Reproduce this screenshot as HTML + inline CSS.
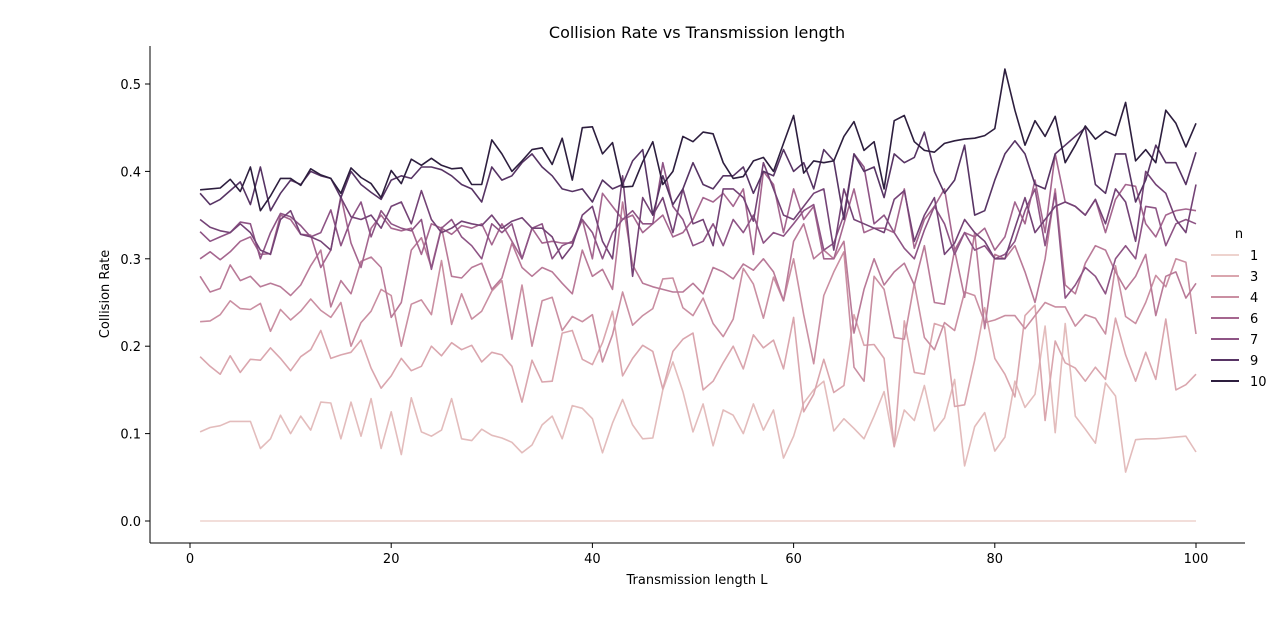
<!DOCTYPE html>
<html><head><meta charset="utf-8"><style>
body{margin:0;background:#fff;font-family:"Liberation Sans","DejaVu Sans",sans-serif}
svg text{font-family:"DejaVu Sans","Liberation Sans",sans-serif;fill:#000}
</style></head><body>
<svg id="chart" width="1280" height="615" viewBox="0 0 1280 615" xmlns="http://www.w3.org/2000/svg">
<text x="697" y="38" font-size="16" text-anchor="middle">Collision Rate vs Transmission length</text>
<g id="marks"></g>
<g id="axes"></g>
<text x="697" y="584" font-size="13" text-anchor="middle">Transmission length L</text>
<text transform="translate(109,294) rotate(-90)" font-size="13" text-anchor="middle">Collision Rate</text>
<g id="legend"></g>
</svg>
<script>
const nValues=[1,2,3,4,5,6,7,8,9,10];
const legendLabels=["1","3","4","6","7","9","10"];
const xTicks=[0,20,40,60,80,100];
const yTicks=[0,0.1,0.2,0.3,0.4,0.5];
const yTickLabels=["0.0","0.1","0.2","0.3","0.4","0.5"];
const colors=["#eed3ce","#e3bcbc","#daa6ae","#ca8fa2","#b97a98","#a5668f","#8e5485","#744376","#573464","#2d1e3e"];
const s1=new Array(100).fill(0);
const s2=[0.102,0.107,0.109,0.114,0.114,0.114,0.083,0.094,0.121,0.100,0.120,0.104,0.136,0.135,0.094,0.136,0.097,0.140,0.083,0.125,0.076,0.141,0.102,0.097,0.104,0.140,0.094,0.092,0.105,0.098,0.095,0.090,0.078,0.087,0.110,0.120,0.094,0.132,0.129,0.117,0.078,0.112,0.139,0.110,0.094,0.095,0.150,0.182,0.148,0.102,0.134,0.086,0.127,0.121,0.100,0.134,0.104,0.127,0.072,0.097,0.135,0.150,0.160,0.103,0.117,0.106,0.094,0.120,0.148,0.085,0.127,0.115,0.155,0.103,0.118,0.162,0.063,0.108,0.124,0.080,0.096,0.160,0.130,0.145,0.223,0.101,0.226,0.120,0.105,0.089,0.158,0.143,0.056,0.093,0.094,0.094,0.095,0.096,0.097,0.079];
const s3=[0.188,0.177,0.168,0.189,0.170,0.185,0.184,0.198,0.186,0.172,0.188,0.196,0.218,0.186,0.190,0.193,0.207,0.175,0.152,0.166,0.186,0.172,0.177,0.200,0.189,0.204,0.196,0.201,0.182,0.193,0.190,0.177,0.136,0.184,0.159,0.160,0.215,0.218,0.185,0.179,0.204,0.240,0.166,0.186,0.201,0.194,0.151,0.194,0.208,0.215,0.150,0.160,0.181,0.200,0.174,0.213,0.198,0.207,0.174,0.233,0.125,0.145,0.185,0.147,0.155,0.236,0.201,0.202,0.186,0.085,0.229,0.170,0.168,0.226,0.222,0.131,0.133,0.184,0.244,0.186,0.168,0.142,0.235,0.247,0.115,0.206,0.181,0.175,0.160,0.176,0.162,0.232,0.190,0.160,0.193,0.162,0.231,0.150,0.156,0.168];
const s4=[0.228,0.229,0.236,0.252,0.243,0.242,0.249,0.217,0.242,0.230,0.240,0.254,0.241,0.233,0.250,0.200,0.227,0.240,0.265,0.258,0.200,0.248,0.253,0.236,0.298,0.225,0.260,0.231,0.240,0.263,0.275,0.208,0.270,0.200,0.252,0.256,0.218,0.234,0.228,0.236,0.182,0.213,0.262,0.224,0.235,0.243,0.277,0.278,0.244,0.235,0.255,0.226,0.211,0.231,0.289,0.271,0.232,0.279,0.252,0.300,0.236,0.180,0.258,0.285,0.308,0.176,0.160,0.280,0.265,0.210,0.208,0.272,0.210,0.196,0.227,0.218,0.262,0.258,0.227,0.230,0.235,0.235,0.220,0.235,0.250,0.245,0.245,0.223,0.236,0.232,0.214,0.292,0.234,0.226,0.250,0.281,0.268,0.300,0.296,0.214];
const s5=[0.280,0.262,0.266,0.293,0.275,0.280,0.268,0.272,0.268,0.258,0.270,0.292,0.310,0.245,0.275,0.260,0.297,0.302,0.290,0.233,0.250,0.310,0.324,0.290,0.336,0.280,0.278,0.290,0.295,0.265,0.278,0.318,0.290,0.280,0.290,0.285,0.272,0.260,0.310,0.280,0.288,0.265,0.365,0.293,0.272,0.268,0.265,0.262,0.262,0.272,0.260,0.290,0.285,0.277,0.294,0.287,0.300,0.285,0.252,0.320,0.340,0.300,0.310,0.300,0.320,0.215,0.265,0.300,0.270,0.285,0.295,0.270,0.315,0.250,0.248,0.310,0.256,0.330,0.220,0.305,0.300,0.315,0.285,0.250,0.300,0.380,0.270,0.260,0.295,0.315,0.310,0.285,0.265,0.280,0.305,0.235,0.280,0.285,0.255,0.272];
const s6=[0.300,0.308,0.299,0.308,0.320,0.325,0.305,0.306,0.350,0.345,0.328,0.327,0.290,0.310,0.372,0.318,0.290,0.335,0.350,0.335,0.332,0.335,0.305,0.340,0.335,0.328,0.338,0.335,0.340,0.316,0.340,0.320,0.300,0.335,0.318,0.320,0.318,0.318,0.345,0.300,0.375,0.360,0.345,0.350,0.330,0.340,0.350,0.325,0.330,0.345,0.370,0.365,0.375,0.360,0.380,0.305,0.400,0.385,0.330,0.380,0.345,0.360,0.300,0.300,0.340,0.380,0.330,0.335,0.335,0.330,0.380,0.312,0.345,0.360,0.380,0.310,0.330,0.325,0.335,0.310,0.325,0.365,0.340,0.390,0.330,0.420,0.365,0.360,0.350,0.368,0.330,0.368,0.385,0.383,0.340,0.325,0.350,0.355,0.357,0.355];
const s7=[0.331,0.320,0.325,0.330,0.342,0.340,0.300,0.330,0.352,0.348,0.338,0.325,0.330,0.356,0.315,0.345,0.365,0.325,0.355,0.340,0.335,0.332,0.345,0.288,0.335,0.345,0.325,0.315,0.300,0.340,0.330,0.340,0.300,0.335,0.340,0.300,0.315,0.320,0.345,0.330,0.300,0.330,0.345,0.355,0.340,0.340,0.410,0.360,0.345,0.315,0.320,0.340,0.315,0.345,0.330,0.350,0.318,0.330,0.326,0.340,0.355,0.362,0.310,0.318,0.350,0.420,0.405,0.340,0.350,0.330,0.312,0.300,0.333,0.360,0.340,0.305,0.330,0.310,0.315,0.300,0.305,0.320,0.355,0.380,0.315,0.375,0.255,0.270,0.290,0.280,0.260,0.300,0.315,0.300,0.360,0.358,0.315,0.340,0.345,0.340];
const s8=[0.345,0.336,0.332,0.330,0.340,0.330,0.310,0.305,0.345,0.355,0.328,0.325,0.320,0.310,0.370,0.348,0.345,0.350,0.335,0.360,0.365,0.340,0.378,0.345,0.330,0.335,0.343,0.340,0.338,0.350,0.335,0.343,0.347,0.335,0.335,0.325,0.300,0.315,0.350,0.360,0.320,0.300,0.395,0.280,0.370,0.350,0.370,0.330,0.380,0.340,0.345,0.315,0.380,0.380,0.370,0.343,0.410,0.380,0.350,0.345,0.360,0.375,0.380,0.310,0.380,0.345,0.340,0.335,0.330,0.368,0.378,0.320,0.350,0.370,0.305,0.318,0.345,0.330,0.320,0.300,0.300,0.335,0.370,0.330,0.345,0.360,0.365,0.360,0.350,0.368,0.340,0.380,0.365,0.320,0.400,0.385,0.375,0.345,0.330,0.385];
const s9=[0.375,0.362,0.368,0.378,0.388,0.362,0.405,0.355,0.375,0.390,0.385,0.400,0.395,0.392,0.370,0.400,0.385,0.376,0.368,0.390,0.395,0.392,0.405,0.405,0.402,0.395,0.385,0.380,0.365,0.405,0.390,0.395,0.410,0.420,0.405,0.395,0.380,0.377,0.380,0.365,0.390,0.380,0.385,0.412,0.425,0.350,0.395,0.362,0.380,0.410,0.385,0.380,0.395,0.395,0.405,0.375,0.400,0.395,0.425,0.400,0.410,0.380,0.425,0.412,0.345,0.420,0.400,0.405,0.370,0.420,0.410,0.416,0.445,0.400,0.375,0.390,0.430,0.350,0.355,0.390,0.420,0.435,0.420,0.385,0.380,0.420,0.430,0.440,0.450,0.385,0.375,0.420,0.420,0.365,0.390,0.430,0.410,0.410,0.385,0.422];
const s10=[0.379,0.380,0.381,0.391,0.377,0.405,0.355,0.372,0.392,0.392,0.384,0.403,0.396,0.392,0.375,0.404,0.393,0.386,0.370,0.401,0.386,0.414,0.407,0.415,0.407,0.403,0.404,0.385,0.385,0.436,0.420,0.400,0.412,0.425,0.427,0.408,0.438,0.390,0.450,0.451,0.420,0.433,0.382,0.383,0.411,0.434,0.385,0.400,0.440,0.434,0.445,0.443,0.410,0.392,0.394,0.412,0.416,0.400,0.432,0.464,0.398,0.412,0.410,0.412,0.440,0.457,0.424,0.434,0.380,0.458,0.464,0.434,0.424,0.422,0.432,0.435,0.437,0.438,0.441,0.449,0.517,0.470,0.430,0.458,0.440,0.463,0.410,0.430,0.452,0.437,0.446,0.441,0.479,0.412,0.425,0.410,0.470,0.455,0.428,0.455];
const series=[s1,s2,s3,s4,s5,s6,s7,s8,s9,s10];
const NS="http://www.w3.org/2000/svg";
const X0=150,X1=1245,Y0=543,Y1=46;
function xs(v){return 190+v*(1196-190)/100;}
function ys(v){return 521-v*(521-84)/0.5;}
function mk(t,a,p){const e=document.createElementNS(NS,t);for(const k in a)e.setAttribute(k,a[k]);p.appendChild(e);return e;}
const marks=document.getElementById('marks');
series.forEach((s,i)=>{
  const d=s.map((v,j)=>(j?'L':'M')+xs(j+1).toFixed(1)+','+ys(v).toFixed(1)).join('');
  const p=mk('path',{d:d,fill:'none',stroke:colors[i],'stroke-width':1.6,'stroke-linejoin':'round'},marks);
  
  
});
const axes=document.getElementById('axes');
mk('line',{x1:X0,y1:Y1,x2:X0,y2:Y0,stroke:'#000','stroke-width':1},axes);
mk('line',{x1:X0,y1:Y0,x2:X1,y2:Y0,stroke:'#000','stroke-width':1},axes);
xTicks.forEach(v=>{
  mk('line',{x1:xs(v),y1:Y0,x2:xs(v),y2:Y0+5,stroke:'#000'},axes);
  const t=mk('text',{x:xs(v),y:Y0+20,'font-size':13,'text-anchor':'middle'},axes);t.textContent=v;
  
  
});
yTicks.forEach((v,i)=>{
  mk('line',{x1:X0-5,y1:ys(v),x2:X0,y2:ys(v),stroke:'#000'},axes);
  const t=mk('text',{x:X0-9,y:ys(v)+5,'font-size':13,'text-anchor':'end'},axes);t.textContent=yTickLabels[i];
  
  
});
const lg=document.getElementById('legend');
const tt=mk('text',{x:1239,y:238,'font-size':13,'text-anchor':'middle'},lg);tt.textContent='n';
legendLabels.forEach((l,i)=>{
  const y=255+i*21;
  const c=colors[nValues.indexOf(+l)];
  mk('line',{x1:1211,y1:y,x2:1239,y2:y,stroke:c,'stroke-width':2},lg);
  const t=mk('text',{x:1250,y:y+5,'font-size':13},lg);t.textContent=l;
  
  
});
</script>
</body></html>
